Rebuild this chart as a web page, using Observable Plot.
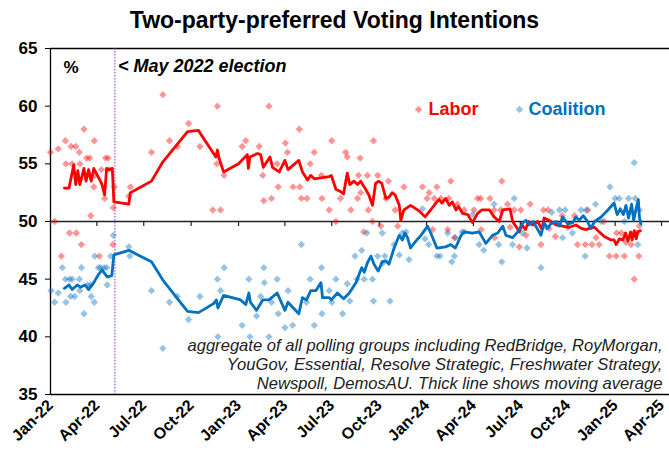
<!DOCTYPE html>
<html>
<head>
<meta charset="utf-8">
<script src="https://cdn.jsdelivr.net/npm/d3@7"></script>
<script src="https://cdn.jsdelivr.net/npm/@observablehq/plot@0.6"></script>
<style>
  html, body { margin: 0; padding: 0; background: #fff; }
  body { width: 669px; height: 456px; overflow: hidden; font-family: "Liberation Sans", Arial, sans-serif; }
  #title { height: 38px; line-height: 40px; text-align: center; font-weight: bold; font-size: 23px; color: #000; }
  #chart svg { display: block; }
</style>
</head>
<body>
<div id="title"></div>
<div id="chart"></div>
<script>
// ---------- DATA ----------
const title = "Two-party-preferred Voting Intentions";
const yTicks = [35, 40, 45, 50, 55, 60, 65];
const xTickDates = ["2022-01-01","2022-04-01","2022-07-01","2022-10-01","2023-01-01","2023-04-01","2023-07-01","2023-10-01","2024-01-01","2024-04-01","2024-07-01","2024-10-01","2025-01-01","2025-04-01"];
const electionDate = "2022-05-06";
const electionLabel = "< May 2022 election";
const unitLabel = "%";
const seriesNames = ["Labor", "Coalition"];
const note = "aggregate of all polling groups including RedBridge, RoyMorgan,\nYouGov, Essential, Resolve Strategic, Freshwater Strategy,\nNewspoll, DemosAU. Thick line shows moving average";

// individual polls: Labor
const laborPolls = [
["2022-01-01",56.0],["2022-01-09",50.0],["2022-01-16",56.3],["2022-01-22",47.0],["2022-01-30",57.0],["2022-01-31",55.0],
["2022-02-07",49.0],["2022-02-10",56.5],["2022-02-12",55.0],["2022-02-19",56.5],["2022-02-20",49.0],["2022-02-26",56.0],
["2022-02-27",55.0],["2022-03-02",48.0],["2022-03-07",58.0],["2022-03-12",55.5],["2022-03-18",55.5],["2022-03-20",50.5],
["2022-03-26",53.0],["2022-03-27",57.0],["2022-03-28",54.0],["2022-04-06",47.0],["2022-04-10",54.5],["2022-04-16",52.0],
["2022-04-18",55.5],["2022-04-23",55.5],["2022-04-24",54.5],["2022-05-02",48.0],["2022-05-03",51.2],["2022-05-05",53.0],
["2022-06-02",52.2],["2022-06-05",53.0],["2022-07-16",56.0],["2022-08-07",61.0],["2022-08-20",57.0],["2022-09-04",56.5],
["2022-09-26",58.5],["2022-10-18",56.5],["2022-11-12",51.0],["2022-11-21",60.0],["2022-11-20",55.0],["2022-11-27",51.0],
["2022-12-04",54.0],["2023-01-08",56.5],["2023-01-15",57.0],["2023-02-10",56.5],["2023-02-17",54.0],["2023-02-19",51.8],
["2023-03-01",60.0],["2023-03-06",52.0],["2023-03-17",55.0],["2023-03-19",53.0],["2023-04-02",56.8],["2023-04-06",56.0],
["2023-04-17",53.0],["2023-04-29",58.0],["2023-04-30",53.0],["2023-05-03",52.0],["2023-05-14",52.0],["2023-05-20",55.0],
["2023-05-28",56.0],["2023-06-11",54.0],["2023-06-12",52.0],["2023-06-26",51.0],["2023-07-01",57.0],["2023-07-09",50.0],
["2023-07-18",52.0],["2023-07-28",56.0],["2023-07-31",55.6],["2023-08-07",51.0],["2023-08-20",52.0],["2023-08-22",54.0],
["2023-08-25",55.5],["2023-08-26",52.5],["2023-09-01",49.1],["2023-09-08",54.0],["2023-09-10",51.0],["2023-09-18",50.0],
["2023-09-20",57.0],["2023-09-28",54.0],["2023-10-04",49.6],["2023-10-14",52.0],["2023-10-19",53.5],["2023-11-01",51.0],
["2023-11-06",49.6],["2023-11-18",53.0],["2023-12-24",53.0],["2024-01-02",52.0],["2024-01-06",52.5],["2024-01-13",49.3],
["2024-01-16",52.0],["2024-01-21",53.0],["2024-01-29",52.0],["2024-02-11",49.3],["2024-02-13",52.0],["2024-02-17",53.5],
["2024-02-24",48.6],["2024-03-01",51.5],["2024-03-14",51.0],["2024-04-02",51.0],["2024-04-09",52.0],["2024-04-15",52.0],
["2024-04-16",49.3],["2024-05-03",52.0],["2024-05-11",51.0],["2024-05-12",48.6],["2024-05-24",51.0],["2024-05-26",53.5],
["2024-06-06",51.5],["2024-06-11",49.5],["2024-06-19",51.0],["2024-06-29",47.8],["2024-07-02",51.0],["2024-07-12",48.8],
["2024-07-20",51.5],["2024-08-10",48.0],["2024-08-15",51.0],["2024-08-24",51.0],["2024-08-26",49.4],["2024-09-07",48.7],
["2024-09-20",50.5],["2024-10-01",49.5],["2024-10-14",50.5],["2024-10-20",48.0],["2024-11-04",48.0],["2024-11-09",51.0],
["2024-11-17",48.0],["2024-11-25",48.6],["2024-12-01",48.0],["2024-12-10",50.0],["2024-12-21",47.0],["2025-01-03",47.0],
["2025-01-04",49.0],["2025-01-13",49.0],["2025-01-19",47.0],["2025-01-22",48.2],["2025-02-01",48.0],["2025-02-07",45.0],
["2025-02-11",49.0],["2025-02-16",47.0],["2025-02-17",49.6]
];

// individual polls: Coalition
const coalitionPolls = [
["2022-01-02",44.0],["2022-01-09",43.0],["2022-01-16",43.8],["2022-01-24",46.0],["2022-01-30",45.0],["2022-01-31",43.0],
["2022-02-07",45.0],["2022-02-09",43.5],["2022-02-12",45.0],["2022-02-17",43.5],["2022-02-26",45.0],["2022-02-27",44.0],
["2022-03-02",46.0],["2022-03-07",42.0],["2022-03-14",44.5],["2022-03-20",44.5],["2022-03-21",43.5],["2022-03-27",43.0],
["2022-03-28",47.0],["2022-04-04",46.0],["2022-04-08",46.0],["2022-04-15",46.0],["2022-04-20",46.0],["2022-04-21",44.5],
["2022-04-28",47.0],["2022-05-03",48.8],["2022-06-02",47.8],["2022-06-04",47.0],["2022-07-16",44.0],["2022-08-07",39.0],
["2022-08-20",43.0],["2022-09-04",43.5],["2022-09-26",41.5],["2022-10-18",43.5],["2022-11-21",45.0],["2022-11-22",40.0],
["2022-11-27",44.0],["2022-12-04",46.0],["2023-01-08",41.0],["2023-01-21",45.0],["2023-01-23",40.0],["2023-02-05",41.8],
["2023-02-13",43.5],["2023-02-19",46.0],["2023-02-20",44.7],["2023-03-01",40.0],["2023-03-06",43.0],["2023-03-17",45.0],
["2023-03-19",42.0],["2023-04-01",40.8],["2023-04-07",44.0],["2023-04-16",41.0],["2023-05-03",48.0],["2023-05-13",43.0],
["2023-05-20",45.0],["2023-05-28",41.0],["2023-06-11",46.0],["2023-06-12",42.0],["2023-06-26",44.0],["2023-07-01",43.0],
["2023-07-09",45.0],["2023-07-22",42.0],["2023-07-31",44.6],["2023-08-05",43.1],["2023-08-15",47.0],["2023-08-19",45.0],
["2023-08-28",47.5],["2023-09-02",45.0],["2023-09-07",49.0],["2023-09-18",45.0],["2023-09-20",43.1],["2023-09-28",47.0],
["2023-10-07",49.0],["2023-10-08",46.4],["2023-10-12",47.0],["2023-10-22",43.1],["2023-10-30",48.0],["2023-11-09",47.1],
["2023-11-15",49.0],["2023-11-22",49.1],["2023-11-28",46.7],["2023-12-24",51.1],["2023-12-29",48.5],["2024-01-05",48.0],
["2024-01-21",47.0],["2024-01-27",47.0],["2024-02-11",49.0],["2024-02-19",46.5],["2024-02-24",47.0],["2024-02-26",48.6],
["2024-03-10",49.1],["2024-03-14",49.1],["2024-03-30",50.6],["2024-04-12",48.0],["2024-04-21",47.5],["2024-05-11",51.5],
["2024-05-20",48.0],["2024-05-26",46.5],["2024-06-16",48.0],["2024-06-19",52.0],["2024-07-05",49.0],["2024-07-14",47.7],
["2024-08-10",46.0],["2024-08-20",49.5],["2024-08-31",50.8],["2024-09-15",51.0],["2024-09-21",48.6],["2024-09-26",51.0],
["2024-10-10",49.0],["2024-10-27",51.0],["2024-11-04",47.0],["2024-11-06",51.0],["2024-11-24",51.5],["2024-12-05",50.0],
["2024-12-22",53.0],["2025-01-01",52.0],["2025-01-09",52.0],["2025-01-19",50.0],["2025-01-27",52.0],["2025-02-07",55.1],
["2025-02-09",52.0],["2025-02-14",48.0],["2025-02-17",51.0]
];

// moving average: Labor
const laborAvg = [
["2022-01-28",52.9],["2022-02-06",52.9],["2022-02-15",54.9],["2022-02-19",53.2],["2022-02-23",54.4],["2022-02-27",53.2],
["2022-03-07",54.6],["2022-03-11",53.5],["2022-03-16",54.5],["2022-03-21",53.5],["2022-03-26",54.6],["2022-04-02",54.0],
["2022-04-08",53.5],["2022-04-11",53.2],["2022-04-16",52.3],["2022-04-20",54.6],["2022-04-24",54.5],["2022-05-01",54.6],
["2022-05-04",51.7],["2022-06-02",51.5],["2022-06-05",52.5],["2022-07-16",53.5],["2022-08-06",55.1],["2022-09-24",57.8],
["2022-10-15",57.9],["2022-11-18",55.6],["2022-11-21",56.2],["2022-11-24",55.5],["2022-12-03",54.3],["2023-01-01",55.0],
["2023-01-18",55.8],["2023-01-20",54.6],["2023-01-23",55.6],["2023-02-07",55.9],["2023-02-13",55.8],["2023-02-18",54.7],
["2023-03-03",55.6],["2023-03-08",54.7],["2023-03-21",54.3],["2023-04-01",55.3],["2023-04-07",54.5],["2023-04-28",55.3],
["2023-05-05",54.3],["2023-05-15",53.6],["2023-05-21",54.0],["2023-05-28",53.7],["2023-06-26",53.9],["2023-06-30",54.0],
["2023-07-09",52.8],["2023-07-18",52.6],["2023-07-24",52.4],["2023-07-31",54.2],["2023-08-05",53.2],["2023-08-13",53.5],
["2023-08-20",53.2],["2023-08-26",53.5],["2023-09-02",53.0],["2023-09-11",52.3],["2023-09-18",51.4],["2023-09-24",53.3],
["2023-09-30",53.5],["2023-10-06",53.3],["2023-10-14",52.0],["2023-10-20",52.1],["2023-10-26",52.5],["2023-11-01",52.3],
["2023-11-09",51.4],["2023-11-12",50.1],["2023-11-18",51.0],["2023-12-01",51.4],["2023-12-18",50.9],["2023-12-29",50.4],
["2024-01-09",51.0],["2024-01-19",51.6],["2024-01-25",51.9],["2024-01-31",51.6],["2024-02-07",52.0],["2024-02-14",51.4],
["2024-02-20",51.7],["2024-02-27",51.0],["2024-03-03",51.3],["2024-03-11",50.7],["2024-03-21",50.6],["2024-03-30",49.9],
["2024-04-09",50.7],["2024-04-17",51.0],["2024-05-02",51.0],["2024-05-11",50.4],["2024-05-21",50.0],["2024-05-28",51.0],
["2024-06-11",51.1],["2024-06-16",50.0],["2024-06-22",49.6],["2024-06-29",49.1],["2024-07-04",49.7],["2024-07-11",49.3],
["2024-07-17",50.0],["2024-07-25",49.7],["2024-08-04",50.0],["2024-08-12",49.3],["2024-08-16",50.3],["2024-08-26",50.1],
["2024-09-08",49.7],["2024-09-21",49.6],["2024-10-04",49.5],["2024-10-17",49.7],["2024-10-27",49.4],["2024-11-06",49.3],
["2024-11-12",49.4],["2024-11-22",49.5],["2024-12-01",49.1],["2024-12-11",48.7],["2024-12-24",48.4],["2024-12-30",48.4],
["2025-01-03",48.0],["2025-01-09",48.5],["2025-01-16",48.4],["2025-01-21",49.0],["2025-01-26",48.3],["2025-01-31",49.1],
["2025-02-03",48.4],["2025-02-07",49.2],["2025-02-11",48.5],["2025-02-14",49.1],["2025-02-19",49.2]
];

// moving average: Coalition
const coalitionAvg = [
["2022-01-28",44.2],["2022-02-06",44.5],["2022-02-12",44.1],["2022-02-22",44.5],["2022-02-28",44.3],["2022-03-09",44.5],
["2022-03-16",44.1],["2022-03-26",44.7],["2022-04-04",45.4],["2022-04-11",45.8],["2022-04-16",45.5],["2022-04-21",45.2],
["2022-04-30",45.3],["2022-05-04",47.1],["2022-06-02",47.5],["2022-07-16",46.5],["2022-08-09",44.8],["2022-09-24",42.2],
["2022-10-15",42.1],["2022-10-27",42.4],["2022-11-14",42.9],["2022-11-19",43.2],["2022-11-22",42.5],["2022-12-03",43.6],
["2023-01-05",43.2],["2023-01-15",42.8],["2023-01-21",43.8],["2023-01-24",43.0],["2023-02-05",42.3],["2023-02-17",43.2],
["2023-03-01",43.2],["2023-03-17",43.8],["2023-04-01",42.3],["2023-04-07",43.0],["2023-04-28",42.0],["2023-05-05",43.4],
["2023-05-13",43.2],["2023-05-21",44.0],["2023-05-31",44.0],["2023-06-10",44.7],["2023-06-13",43.4],["2023-06-26",43.4],
["2023-06-30",43.2],["2023-07-12",43.8],["2023-07-24",43.3],["2023-08-04",43.8],["2023-08-17",44.7],["2023-08-23",45.4],
["2023-08-28",46.0],["2023-09-02",45.6],["2023-09-08",46.4],["2023-09-15",47.0],["2023-09-21",46.3],["2023-09-29",45.7],
["2023-10-07",46.5],["2023-10-14",46.6],["2023-10-20",46.3],["2023-10-30",47.7],["2023-11-09",48.8],["2023-11-15",48.4],
["2023-11-20",49.0],["2023-11-25",48.6],["2023-12-01",47.7],["2023-12-11",48.3],["2023-12-21",48.8],["2024-01-03",49.6],
["2024-01-09",49.0],["2024-01-21",47.7],["2024-02-07",47.8],["2024-02-17",48.0],["2024-02-26",47.7],["2024-03-08",48.8],
["2024-03-14",49.1],["2024-03-30",49.0],["2024-04-12",49.1],["2024-04-25",48.1],["2024-05-08",48.8],["2024-05-18",49.0],
["2024-05-28",49.6],["2024-06-03",48.8],["2024-06-16",48.6],["2024-06-26",49.1],["2024-07-06",49.9],["2024-07-12",50.1],
["2024-07-18",49.7],["2024-07-25",50.0],["2024-07-31",49.6],["2024-08-10",48.8],["2024-08-16",49.9],["2024-08-23",49.4],
["2024-08-29",49.8],["2024-09-08",50.0],["2024-09-15",49.6],["2024-09-21",50.4],["2024-10-01",49.8],["2024-10-11",49.9],
["2024-10-17",50.4],["2024-10-23",50.1],["2024-10-31",50.5],["2024-11-07",50.1],["2024-11-15",49.4],["2024-11-22",50.0],
["2024-12-05",50.4],["2024-12-18",51.0],["2024-12-30",51.6],["2025-01-05",50.6],["2025-01-11",51.1],["2025-01-17",50.6],
["2025-01-22",51.4],["2025-01-27",50.3],["2025-02-02",51.5],["2025-02-06",50.1],["2025-02-11",51.2],["2025-02-15",51.9],
["2025-02-17",50.4],["2025-02-20",49.8]
];

// ---------- BUILD ----------
document.getElementById("title").textContent = title;
const parse = d3.utcParse("%Y-%m-%d");
const toRows = arr => arr.map(([d, v]) => ({date: parse(d), value: v}));
const lp = toRows(laborPolls), cp = toRows(coalitionPolls);
const la = toRows(laborAvg), ca = toRows(coalitionAvg);
const ticks = xTickDates.map(parse);
const election = parse(electionDate);

const RED = "#ff0000", BLUE = "#0070c0";
const FONT = "Liberation Sans, Arial, sans-serif";
const DOT = {symbol: "diamond2", r: 3.3, fillOpacity: 0.42, stroke: "none"};

const chart = Plot.plot({
  width: 669,
  height: 418,
  marginLeft: 50,
  marginRight: 0,
  marginTop: 10,
  marginBottom: 62,
  style: {fontFamily: FONT, background: "#fff", color: "#000"},
  x: {type: "utc", domain: [ticks[0], ticks[ticks.length - 1]], range: [50, 661]},
  y: {domain: [35, 65]},
  marks: [
    // frame lines
    Plot.ruleY([65, 35], {stroke: "#000", strokeWidth: 1.3}),
    Plot.ruleX([ticks[0]], {stroke: "#000", strokeWidth: 1.3}),
    Plot.ruleY([50], {stroke: "#222", strokeWidth: 1.3}),
    Plot.ruleX(ticks, {x: d => d, y1: 50, y2: 50, insetBottom: -5, stroke: "#222", strokeWidth: 1.2}),
    // election marker
    Plot.ruleX([election], {stroke: "#8a2be2", strokeWidth: 1, strokeDasharray: "1.5,1.5"}),
    // polls
    Plot.dot(lp, {x: "date", y: "value", fill: RED, ...DOT}),
    Plot.dot(cp, {x: "date", y: "value", fill: BLUE, ...DOT}),
    // moving averages
    Plot.line(la, {x: "date", y: "value", stroke: RED, strokeWidth: 2.8, curve: "linear"}),
    Plot.line(ca, {x: "date", y: "value", stroke: BLUE, strokeWidth: 2.8, curve: "linear"}),
    // axes
    Plot.axisY({ticks: yTicks, tickSize: 5, tickPadding: 8, fontSize: 17, fontWeight: "bold", tickFormat: d => d, label: null, stroke: "#000"}),
    Plot.axisX({ticks: ticks, tickSize: 0, tickPadding: 8, tickRotate: -45, fontSize: 16, fontWeight: "bold",
                tickFormat: d3.utcFormat("%b-%y"), label: null}),
    // annotations
    Plot.text([unitLabel], {frameAnchor: "top-left", dx: 13, dy: 24, lineAnchor: "bottom", fontSize: 17, fontWeight: "bold", textAnchor: "start"}),
    Plot.text([electionLabel], {x: () => election, frameAnchor: "top", dx: 3, dy: 23, lineAnchor: "bottom", fontSize: 18, fontWeight: "bold",
               fontStyle: "italic", textAnchor: "start"}),
    Plot.dot([seriesNames[0]], {frameAnchor: "top-left", dx: 368, dy: 61, fill: RED, ...DOT}),
    Plot.text([seriesNames[0]], {frameAnchor: "top-left", dx: 378, dy: 61, lineAnchor: "middle", fontSize: 18, fontWeight: "bold", fill: RED, textAnchor: "start"}),
    Plot.dot([seriesNames[1]], {frameAnchor: "top-left", dx: 469, dy: 61, fill: BLUE, ...DOT}),
    Plot.text([seriesNames[1]], {frameAnchor: "top-left", dx: 478, dy: 61, lineAnchor: "middle", fontSize: 18, fontWeight: "bold", fill: BLUE, textAnchor: "start"}),
    Plot.text([note], {frameAnchor: "bottom-right", dx: -7, dy: -6, fontSize: 16.6, fontStyle: "italic", fill: "#222",
               textAnchor: "end", lineAnchor: "bottom", lineHeight: 1.12})
  ]
});
document.getElementById("chart").appendChild(chart);
</script>
</body>
</html>
